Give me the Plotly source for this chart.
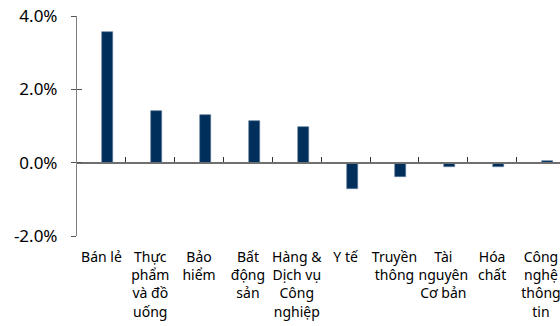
import plotly.graph_objects as go

# Sector returns (%)
sectors = [
    "Bán lẻ", "Thực<br>phẩm<br>và đồ<br>uống", "Bảo<br>hiểm", "Bất<br>động<br>sản",
    "Hàng &<br>Dịch vụ<br>Công<br>nghiệp", "Y tế", "Truyền<br>thông",
    "Tài<br>nguyên<br>Cơ bản", "Hóa<br>chất", "Công<br>nghệ<br>thông<br>tin",
]
returns = [3.56, 1.41, 1.30, 1.13, 0.97, -0.72, -0.38, -0.11, -0.11, 0.05]
y_ticks = [-2, 0, 2, 4]
y_tick_text = ["-2.0%", "0.0%", "2.0%", "4.0%"]

positions = list(range(len(sectors)))
boundaries = [p + 0.5 for p in positions[:-1]]

NAVY = "#002F5C"
AXIS = "#7f7f7f"
FONT = "Noto Sans"

fig = go.Figure()
fig.add_trace(go.Bar(
    x=positions, y=returns, width=0.225, offset=0.02,
    marker=dict(color=NAVY, line=dict(color="#5a7896", width=0.6)),
    xaxis="x", yaxis="y", hoverinfo="skip",
))
# invisible companion traces so the overlay axes are drawn
fig.add_trace(go.Scatter(x=[0], y=[0], mode="markers", marker=dict(opacity=0),
                         xaxis="x2", yaxis="y", showlegend=False, hoverinfo="skip"))
fig.add_trace(go.Scatter(x=[0], y=[0], mode="markers", marker=dict(opacity=0),
                         xaxis="x", yaxis="y2", showlegend=False, hoverinfo="skip"))

x_range = [-0.5, 9.39]
y_range = [-2, 4]
zero_pos = (0 - y_range[0]) / (y_range[1] - y_range[0])

fig.update_layout(
    width=560, height=326,
    margin=dict(l=77, r=0, t=16, b=89.5),
    paper_bgcolor="white", plot_bgcolor="white",
    showlegend=False, bargap=0,
    font=dict(family=FONT, color="#000000"),
    xaxis=dict(
        range=x_range, tickmode="array", tickvals=positions, ticktext=sectors,
        tickangle=0, showline=False, ticks="", showgrid=False, zeroline=False,
        tickfont=dict(size=14, family=FONT), ticklabelstandoff=11,
        ticklabeloverflow="allow",
    ),
    xaxis2=dict(
        range=x_range, overlaying="x", anchor="free", position=zero_pos,
        tickmode="array", tickvals=boundaries, showticklabels=False,
        ticks="inside", ticklen=5, tickwidth=1.2, tickcolor="#333333",
        showline=True, linecolor="#6f6f6f", linewidth=1.5,
        showgrid=False, zeroline=False,
    ),
    yaxis=dict(
        range=y_range, tickmode="array", tickvals=y_ticks, ticktext=y_tick_text,
        showline=True, linecolor=AXIS, linewidth=1.2,
        ticks="outside", ticklen=5, tickwidth=1.2, tickcolor="#555555",
        showgrid=False, zeroline=False,
        tickfont=dict(size=17, family=FONT), ticklabelstandoff=10,
    ),
    yaxis2=dict(
        range=y_range, overlaying="y", side="left", anchor="x",
        tickmode="array", tickvals=y_ticks, showticklabels=False,
        ticks="inside", ticklen=5, tickwidth=1.2, tickcolor="#555555",
        showline=False, showgrid=False, zeroline=False,
    ),
)

fig.write_html("out.html")
